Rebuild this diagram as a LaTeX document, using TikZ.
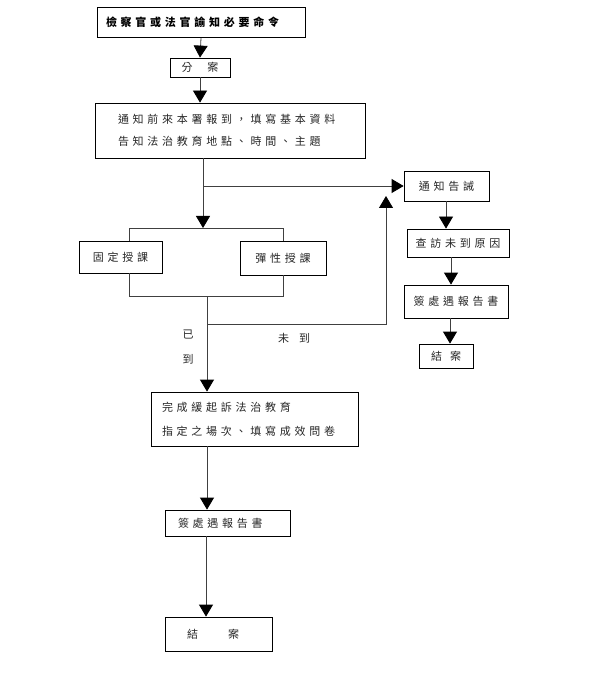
\documentclass[tikz,border=0pt]{standalone}
\usepackage{fontspec}
\newfontfamily\cjk[LetterSpace=34]{Noto Sans CJK TC}
\usetikzlibrary{arrows.meta}
\tikzset{
  box/.style={draw=black, line width=0.8pt, rectangle, inner ysep=0pt, font=\cjk\fontsize{11}{22}\selectfont, text=black!85},
  conn/.style={draw=black!75, line width=0.8pt},
  arr/.style={conn, -{Triangle[width=14pt,length=12pt,color=black]}},
  lbl/.style={font=\cjk\fontsize{11}{12}\selectfont, text=black!85, inner sep=0pt}
}
\begin{document}
\begin{tikzpicture}[x=1pt,y=-1pt]
\useasboundingbox[fill=white] (0,0) rectangle (600,700);
% main column
\node[box, minimum width=208pt, minimum height=30pt, text width=190pt, inner xsep=9pt, align=left, font=\cjk\bfseries\fontsize{11}{12}\selectfont, text=black] (n1) at (201,22.5) {檢察官或法官諭知必要命令};
\node[box, minimum width=60pt, minimum height=19pt, inner xsep=0pt] (n2) at (200,67.5) {分\hspace{15pt}案};
\node[box, minimum width=270pt, minimum height=55pt, text width=224pt, inner xsep=23pt, align=left] (n3) at (230,130.5) {通知前來本署報到， 填寫基本資料\\告知法治教育地點、時間、主題};
\node[box, minimum width=83pt, minimum height=32pt, inner xsep=0pt] (n4) at (120.5,257) {固定授課};
\node[box, minimum width=86pt, minimum height=34pt, inner xsep=0pt] (n5) at (283,258) {彈性授課};
\node[box, minimum width=207pt, minimum height=54pt, text width=185pt, inner xsep=11pt, align=left, font=\cjk\fontsize{11}{24}\selectfont] (n10) at (254.5,419) {完成緩起訴法治教育\\指定之場次、填寫成效問卷};
\node[box, minimum width=125pt, minimum height=26pt, text width=99pt, inner xsep=13pt, align=left] (n11) at (227.5,523) {簽處遇報告書};
\node[box, minimum width=107pt, minimum height=34pt, text width=63pt, inner xsep=22pt, align=left] (n12) at (218.5,634) {結\hspace{30pt}案};
% right column
\node[box, minimum width=85pt, minimum height=30pt, inner xsep=0pt] (n6) at (446.5,186) {通知告誡};
\node[box, minimum width=102pt, minimum height=28pt, inner xsep=0pt] (n7) at (458,243) {查訪未到原因};
\node[box, minimum width=104pt, minimum height=33pt, inner xsep=0pt] (n8) at (456,301.5) {簽處遇報告書};
\node[box, minimum width=54pt, minimum height=24pt, inner xsep=0pt] (n9) at (446,356) {結\hspace{8pt}案};
% labels
\node[lbl] (l1) at (188,335) {已};
\node[lbl] (l2) at (188,359) {到};
\node[lbl] (l3) at (294,338) {未\hspace{10pt}到};
% coordinates
\coordinate (c1) at (203,186);
\coordinate (c2) at (203,228);
\coordinate (bl) at (129,228);
\coordinate (br) at (283,228);
\coordinate (dl) at (129,296);
\coordinate (dr) at (283,296);
\coordinate (c3) at (207,296);
\coordinate (c4) at (207,324);
\coordinate (c5) at (386,324);
\coordinate (c6) at (386,196);
% connectors
\draw[arr] (n1.south) -- (n2.north);
\draw[arr] (n2.south -| n2) -- (n3.north -| n2);
\draw[conn] (n3.south -| c1) -- (c1);
\draw[arr] (c1) -- (c2);
\draw[arr] (c1) -- (n6.west);
\draw[conn] (n4.north -| bl) -- (bl) -- (br) -- (n5.north -| br);
\draw[conn] (n4.south -| dl) -- (dl) -- (dr) -- (n5.south -| dr);
\draw[conn] (c3) -- (c4);
\draw[arr] (c4) -- (n10.north -| c4);
\draw[arr] (c4) -- (c5) -- (c6);
\draw[arr] (n10.south -| c4) -- (n11.north -| c4);
\draw[arr] (n11.south -| 206,0) -- (n12.north -| 206,0);
\draw[arr] (n6.south -| 446,0) -- (n7.north -| 446,0);
\draw[arr] (n7.south -| 451,0) -- (n8.north -| 451,0);
\draw[arr] (n8.south -| 450,0) -- (n9.north -| 450,0);
\end{tikzpicture}
\end{document}
